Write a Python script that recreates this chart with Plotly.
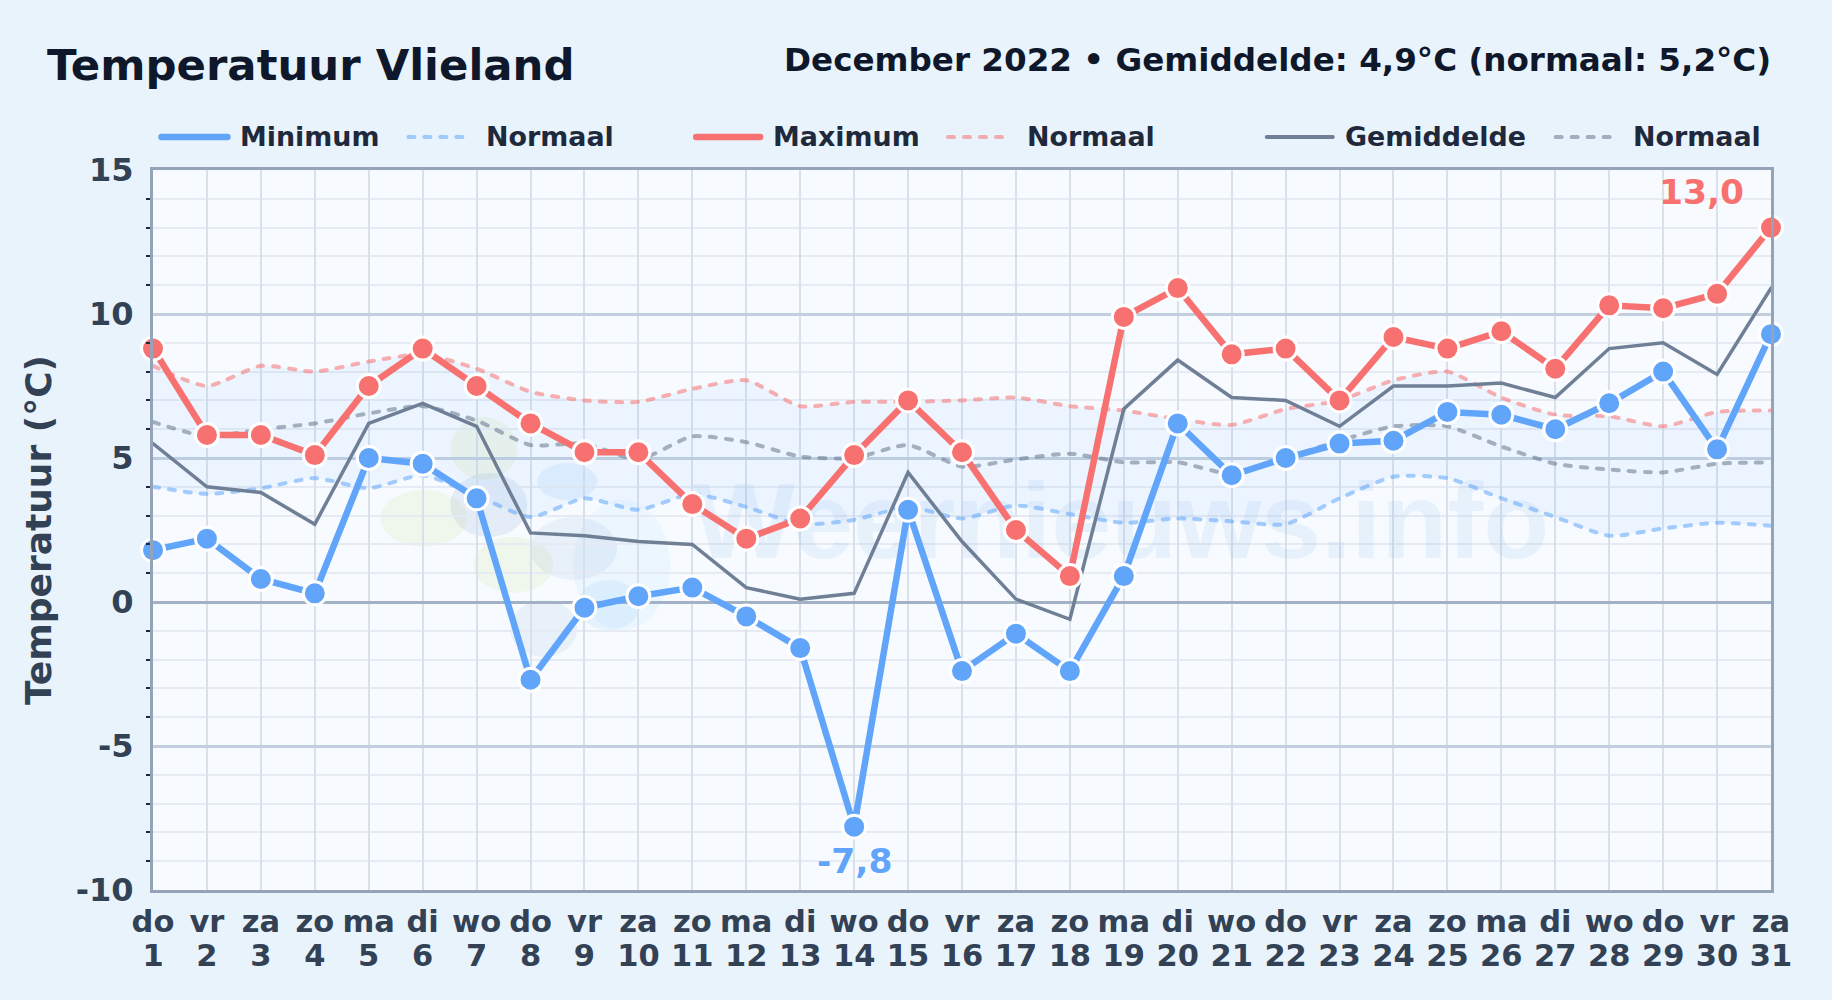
import plotly.graph_objects as go

days = list(range(1, 32))
weekdays = ["do","vr","za","zo","ma","di","wo","do","vr","za","zo","ma","di","wo","do","vr","za","zo","ma","di","wo","do","vr","za","zo","ma","di","wo","do","vr","za"]
t_min = [1.8,2.2,0.8,0.3,5.0,4.8,3.6,-2.7,-0.2,0.2,0.5,-0.5,-1.6,-7.8,3.2,-2.4,-1.1,-2.4,0.9,6.2,4.4,5.0,5.5,5.6,6.6,6.5,6.0,6.9,8.0,5.3,9.3]
t_max = [8.8,5.8,5.8,5.1,7.5,8.8,7.5,6.2,5.2,5.2,3.4,2.2,2.9,5.1,7.0,5.2,2.5,0.9,9.9,10.9,8.6,8.8,7.0,9.2,8.8,9.4,8.1,10.3,10.2,10.7,13.0]
t_avg = [5.5,4.0,3.8,2.7,6.2,6.9,6.1,2.4,2.3,2.1,2.0,0.5,0.1,0.3,4.5,2.1,0.1,-0.6,6.7,8.4,7.1,7.0,6.1,7.5,7.5,7.6,7.1,8.8,9.0,7.9,10.9]
n_min = [4.0,3.75,3.95,4.3,3.95,4.4,3.7,2.95,3.6,3.2,3.75,3.3,2.7,2.85,3.3,2.9,3.35,3.05,2.75,2.9,2.8,2.7,3.6,4.35,4.3,3.6,2.95,2.3,2.55,2.75,2.65]
n_max = [8.2,7.5,8.2,8.0,8.35,8.6,8.1,7.3,7.0,6.95,7.4,7.7,6.8,6.95,6.95,7.0,7.1,6.8,6.65,6.35,6.15,6.7,7.0,7.7,8.0,7.1,6.5,6.45,6.1,6.6,6.65]
n_avg = [6.25,5.75,6.0,6.2,6.55,6.8,6.3,5.45,5.5,4.95,5.75,5.55,5.05,5.0,5.45,4.7,4.95,5.15,4.85,4.85,4.45,5.0,5.6,6.1,6.1,5.4,4.8,4.6,4.5,4.8,4.85]
y_major = [-10,-5,0,5,10,15]
y_minor = [-9,-8,-7,-6,-4,-3,-2,-1,1,2,3,4,6,7,8,9,11,12,13,14]

FONT = "DejaVu Sans"
W, H = 1832, 1000
L, T, R, B = 152.5, 170, 1771.5, 890
BLUE, RED, GREY = "#60a5fa", "#f87171", "#6f7f95"
DASH = "6px,10px"

def px(x): return (x - L) / (R - L)
def py(y): return (B - y) / (B - T)

fig = go.Figure()

# watermark below everything
fig.add_trace(go.Scatter(x=[18.95], y=[2.45], mode="text", text=["Weernieuws.info"], showlegend=False, hoverinfo="skip",
                         textfont=dict(family="Liberation Sans", size=108, weight="bold", color="rgba(96,160,230,0.10)")))

# normal band
fig.add_trace(go.Scatter(x=days, y=n_min, mode="lines", line=dict(color="rgba(0,0,0,0)", shape="spline", smoothing=0.6), showlegend=False, hoverinfo="skip"))
fig.add_trace(go.Scatter(x=days, y=n_max, mode="lines", line=dict(color="rgba(0,0,0,0)", shape="spline", smoothing=0.6), fill="tonexty", fillcolor="rgba(96,165,250,0.065)", showlegend=False, hoverinfo="skip"))

def dashed(y, color):
    fig.add_trace(go.Scatter(x=days, y=y, mode="lines", showlegend=False, hoverinfo="skip",
                             line=dict(color=color, width=4, dash=DASH, shape="spline", smoothing=0.6)))
dashed(n_min, "rgba(96,165,250,0.55)")
dashed(n_max, "rgba(248,113,113,0.55)")
dashed(n_avg, "rgba(100,116,139,0.55)")

fig.add_trace(go.Scatter(x=days, y=t_avg, mode="lines", name="Gemiddelde", showlegend=False, line=dict(color=GREY, width=3.5)))
marker = lambda c: dict(size=23, color=c, line=dict(color="white", width=3))
fig.add_trace(go.Scatter(x=days, y=t_min, mode="lines+markers", name="Minimum", showlegend=False, cliponaxis=False, line=dict(color=BLUE, width=6.5), marker=marker(BLUE)))
fig.add_trace(go.Scatter(x=days, y=t_max, mode="lines+markers", name="Maximum", showlegend=False, cliponaxis=False, line=dict(color=RED, width=6.5), marker=marker(RED)))

# legend built from line samples and texts, placed as in the original
legend_items = [
    ("Minimum", 161, 227, 238, BLUE, 6.5, "solid"),
    ("Normaal", 408, 464, 484, "rgba(96,165,250,0.55)", 4, DASH),
    ("Maximum", 696, 760, 771, RED, 6.5, "solid"),
    ("Normaal", 948, 1004, 1025, "rgba(248,113,113,0.55)", 4, DASH),
    ("Gemiddelde", 1267, 1333, 1343, GREY, 4, "solid"),
    ("Normaal", 1556, 1618, 1631, "rgba(100,116,139,0.55)", 4, DASH),
]
shapes, annotations = [], []
for label, x0, x1, xt, col, lw, dash in legend_items:
    shapes.append(dict(type="line", xref="paper", yref="paper", x0=px(x0), x1=px(x1), y0=py(137), y1=py(137),
                       line=dict(color=col, width=lw, dash=dash)))
    annotations.append(dict(text=label, xref="paper", yref="paper", x=px(xt), y=py(137), xanchor="left", yanchor="middle", showarrow=False,
                            font=dict(family=FONT, size=26.9, color="#1e293b", weight="bold")))

# logo blobs of the watermark
GREEN = "rgba(200,225,140,0.17)"
for x0, x1, y0, y1, c in [(380,467,490,547,GREEN),(450,517,417,480,GREEN),(473,553,537,593,GREEN),
                          (450,527,473,537,"rgba(90,130,200,0.12)"),(537,597,463,500,"rgba(96,165,250,0.12)"),
                          (530,617,517,580,"rgba(90,130,200,0.09)"),(510,577,600,657,"rgba(90,130,200,0.09)"),
                          (573,670,500,630,"rgba(120,190,250,0.08)"),(577,640,580,630,"rgba(120,190,250,0.14)")]:
    shapes.append(dict(type="circle", xref="paper", yref="paper", layer="below", x0=px(x0), x1=px(x1), y0=py(y1), y1=py(y0),
                       fillcolor=c, line=dict(width=0)))

annotations += [
    dict(text="Temperatuur Vlieland", xref="paper", yref="paper", x=px(44), y=py(65), xanchor="left", yanchor="middle", showarrow=False,
         font=dict(family=FONT, size=43.4, color="#0f172a", weight="bold")),
    dict(text="December 2022 • Gemiddelde: 4,9°C (normaal: 5,2°C)", xref="paper", yref="paper", x=px(1774), y=py(60), xanchor="right", yanchor="middle", showarrow=False,
         font=dict(family=FONT, size=32.6, color="#0f172a", weight="bold")),
    dict(text="13,0", x=29.72, y=14.25, xanchor="center", yanchor="middle", showarrow=False,
         font=dict(family=FONT, size=34.5, color=RED, weight="bold", shadow="white 0 0 4px")),
    dict(text="-7,8", x=14, y=-9.0, xanchor="center", yanchor="middle", showarrow=False,
         font=dict(family=FONT, size=34.5, color=BLUE, weight="bold", shadow="white 0 0 4px")),
]

# small base size sets the line spacing of the two-row tick labels; the span sets the glyph size
x_ticktext = [f'<span style="font-size:30.5px">{w}</span><br><span style="font-size:30.5px">{d}</span>' for w, d in zip(weekdays, days)]
fig.update_layout(
    width=W, height=H, margin=dict(l=L, r=W-R, t=T, b=H-B, pad=0, autoexpand=False),
    paper_bgcolor="#e8f3fc", plot_bgcolor="#f7fbff", showlegend=False, shapes=shapes, annotations=annotations,
    xaxis=dict(range=[1, 31], tickmode="array", tickvals=days, ticktext=x_ticktext, ticklabelstandoff=9,
               tickangle=0, tickfont=dict(family=FONT, size=25.4, color="#334155", weight="bold"), showline=True, mirror=True, linecolor="#94a3b8", linewidth=3,
               showgrid=True, gridcolor="#d8e0ea", gridwidth=2, zeroline=False, ticks=""),
    yaxis=dict(range=[-10, 15], tickmode="array", tickvals=y_major, ticktext=[str(v) for v in y_major],
               tickfont=dict(family=FONT, size=32, color="#334155", weight="bold"), ticklabelstandoff=10, showline=True, mirror=True, linecolor="#94a3b8", linewidth=3,
               showgrid=True, gridcolor="#c3cfdf", gridwidth=2.5, zeroline=True, zerolinecolor="#a3b1c4", zerolinewidth=3, ticks="", ticklen=0,
               minor=dict(tickmode="array", tickvals=y_minor, showgrid=True, gridcolor="#e6ebf3", gridwidth=2, ticks="outside", ticklen=4, tickwidth=1.5, tickcolor="#1e293b"),
               title=dict(text="Temperatuur (°C)", font=dict(family=FONT, size=36, color="#334155", weight="bold"), standoff=14)),
)
post = ("document.body.style.margin='0';document.body.style.overflow='hidden';document.body.style.background='#e8f3fc';"
        "var s=document.createElement('style');s.textContent='.js-line,.shapelayer path{stroke-linecap:round}';document.head.appendChild(s);")
fig.write_html("out.html", post_script=post, config={"displayModeBar": False})
